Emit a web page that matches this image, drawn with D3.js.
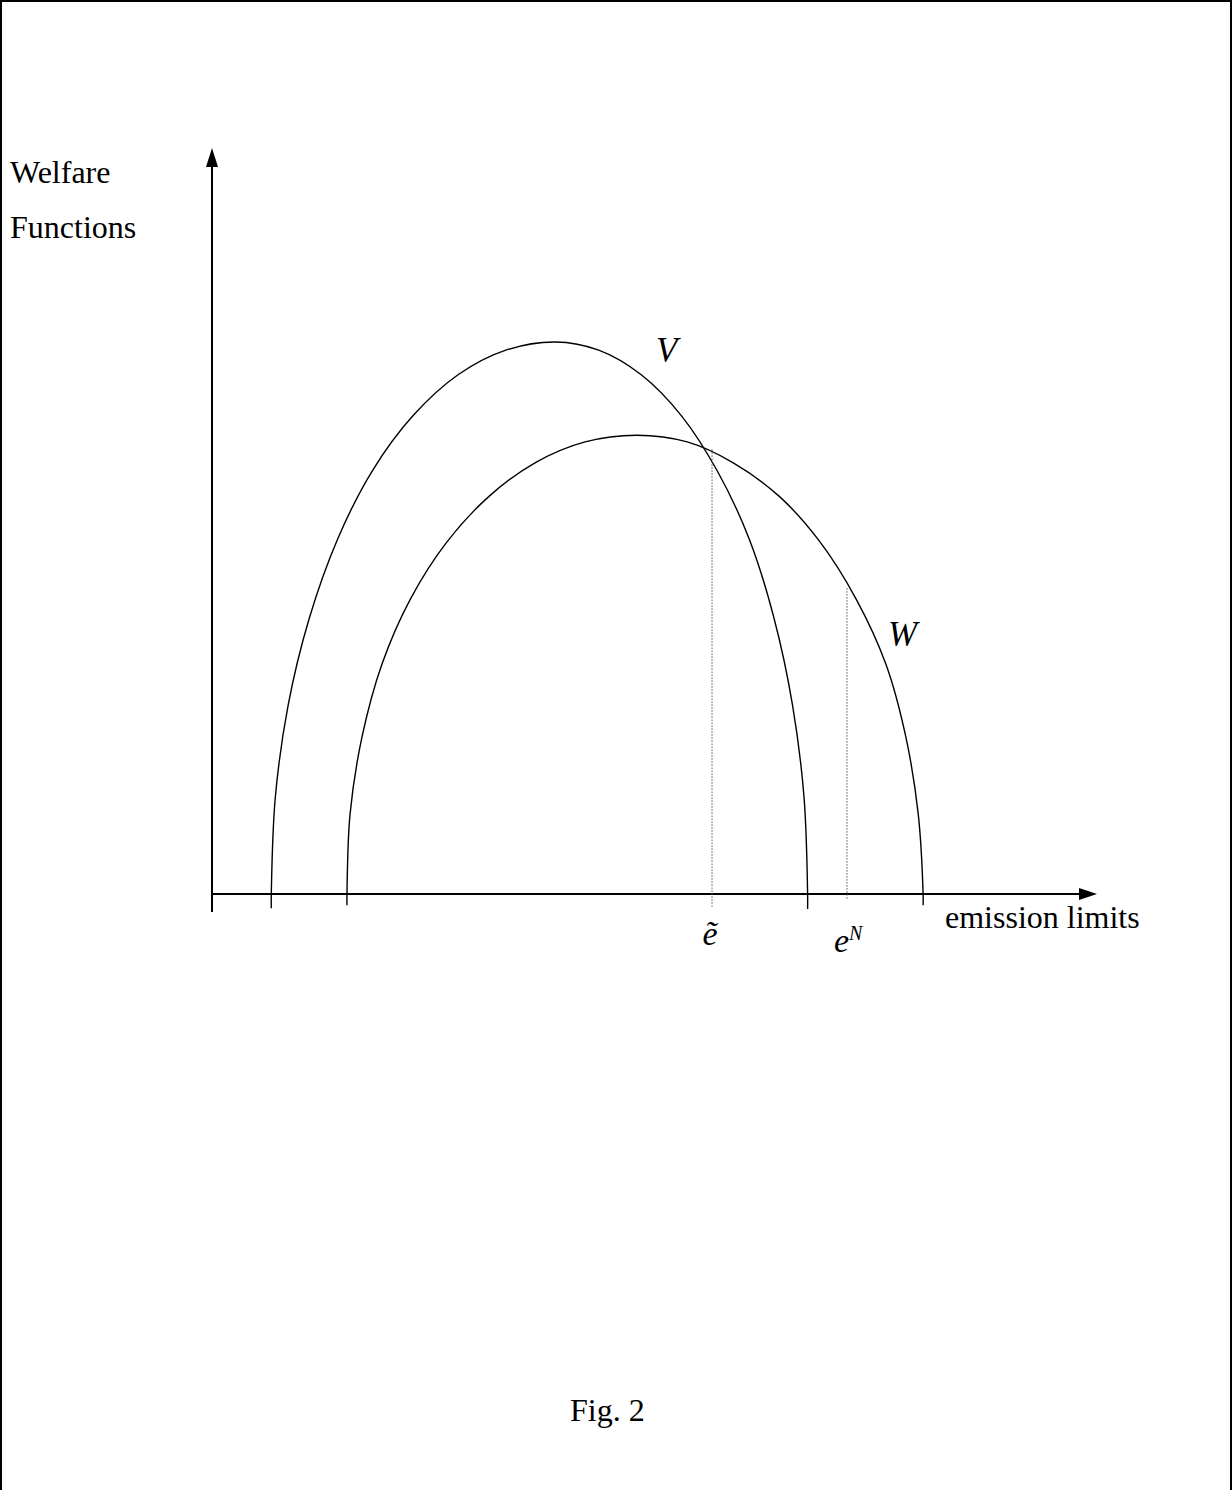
<!DOCTYPE html>
<html>
<head>
<meta charset="utf-8">
<script src="https://cdn.jsdelivr.net/npm/d3@7"></script>
<style>
  body { margin: 0; background: #fff; }
  svg { display: block; }
  text { font-family: "Liberation Serif", "Times New Roman", serif; fill: #000; }
</style>
</head>
<body>
<svg id="chart" width="1232" height="1490"></svg>
<script>
// welfare curves (emission limit, welfare), both in 0..100 units
const curveV = [
  [6.7, -1.9], [6.7, 0], [7.15, 12.9], [8.6, 25.3], [11.0, 37.0], [14.2, 47.6],
  [18.1, 56.7], [22.7, 64.1], [27.8, 69.6], [33.2, 72.9], [38.8, 74.0],
  [43.7, 72.9], [48.5, 69.6], [53.05, 64.1], [57.1, 56.7], [60.7, 47.6],
  [63.5, 37.0], [65.6, 25.3], [66.9, 12.9], [67.3, 0], [67.3, -2.0]
];
const curveW = [
  [15.25, -1.5], [15.25, 0], [15.6, 10.7], [16.95, 21.05], [19.2, 30.8], [22.4, 39.5],
  [26.55, 47.2], [31.3, 53.3], [36.5, 57.8], [42.15, 60.6], [48.0, 61.5],
  [53.7, 60.6], [58.9, 57.8], [64.1, 53.3], [68.7, 47.2], [72.8, 39.5],
  [76.15, 30.8], [78.4, 21.05], [79.8, 10.7], [80.35, 0], [80.35, -1.5]
];
// dotted drop lines: x position, top and bottom
const dropX = [56.5, 71.75];
const dropTop = [59.6, 41.0];
const dropBottom = [-1.7, -0.8];

const svg = d3.select("#chart");

// frame (bottom edge is cut off in the scan)
svg.append("path")
  .attr("d", "M1,1490 V1 H1231 V1490")
  .attr("fill", "none")
  .attr("stroke", "#000")
  .attr("stroke-width", 2);

const x = d3.scaleLinear().domain([0, 100]).range([212, 1097]);
const y = d3.scaleLinear().domain([0, 100]).range([894, 148]);

// axes
svg.append("line")
  .attr("x1", x(0)).attr("x2", x(0))
  .attr("y1", y(-2.4)).attr("y2", y(97.5))
  .attr("stroke", "#000").attr("stroke-width", 2);
svg.append("line")
  .attr("x1", x(0)).attr("x2", x(98))
  .attr("y1", y(0)).attr("y2", y(0))
  .attr("stroke", "#000").attr("stroke-width", 2);

// arrow heads
svg.append("path")
  .attr("d", `M${x(0)},${y(100)} L${x(0) - 6},${y(100) + 19} L${x(0) + 6},${y(100) + 19} Z`)
  .attr("fill", "#000");
svg.append("path")
  .attr("d", `M${x(100)},${y(0)} L${x(100) - 18},${y(0) - 6} L${x(100) - 18},${y(0) + 6} Z`)
  .attr("fill", "#000");

const line = d3.line()
  .x(d => x(d[0]))
  .y(d => y(d[1]))
  .curve(d3.curveCatmullRom.alpha(0.5));

[curveV, curveW].forEach(c => {
  svg.append("path")
    .attr("d", line(c))
    .attr("fill", "none")
    .attr("stroke", "#000")
    .attr("stroke-width", 1.4);
});

dropX.forEach((dx, i) => {
  svg.append("line")
    .attr("x1", x(dx)).attr("x2", x(dx))
    .attr("y1", y(dropTop[i])).attr("y2", y(dropBottom[i]))
    .attr("stroke", "#555")
    .attr("stroke-width", 1)
    .attr("stroke-dasharray", "1.5,1.5");
});

// labels
svg.append("text").attr("x", 10).attr("y", 183).attr("font-size", 32).text("Welfare");
svg.append("text").attr("x", 10).attr("y", 238).attr("font-size", 32).text("Functions");

svg.append("text").attr("x", 656).attr("y", 362)
  .attr("font-size", 35).attr("font-style", "italic").text("V");
svg.append("text").attr("x", 888).attr("y", 646)
  .attr("font-size", 35).attr("font-style", "italic").text("W");

svg.append("text").attr("x", 945).attr("y", 928).attr("font-size", 32).text("emission limits");

// e tilde
svg.append("text").attr("x", x(dropX[0]) - 2).attr("y", 945)
  .attr("text-anchor", "middle")
  .attr("font-size", 34).attr("font-style", "italic").text("\u1EBD");

// e^N
const eN = svg.append("text").attr("x", 834).attr("y", 952)
  .attr("font-size", 34).attr("font-style", "italic");
eN.append("tspan").text("e");
eN.append("tspan").attr("dy", -12).attr("font-size", 20).text("N");

svg.append("text").attr("x", 570).attr("y", 1421).attr("font-size", 32).text("Fig. 2");
</script>
</body>
</html>
